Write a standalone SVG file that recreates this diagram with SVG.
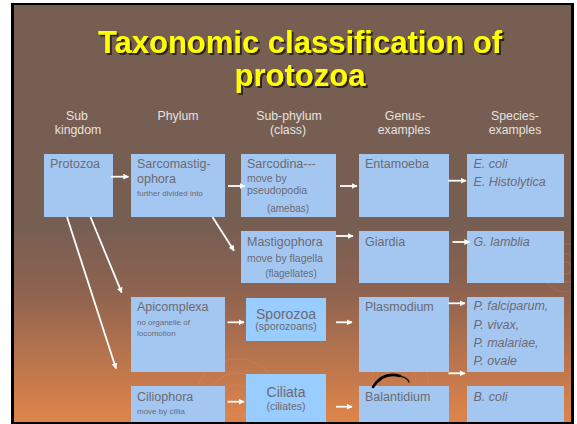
<svg xmlns="http://www.w3.org/2000/svg" width="577" height="424" viewBox="0 0 577 424">
  <defs>
    <linearGradient id="slideBg" gradientUnits="userSpaceOnUse" x1="0" y1="225" x2="0" y2="415">
      <stop offset="0" stop-color="#765E53"/>
      <stop offset="0.35" stop-color="#8E6350"/>
      <stop offset="1" stop-color="#DB834B"/>
    </linearGradient>
    <filter id="titleShadow" x="-5%" y="-20%" width="110%" height="140%">
      <feDropShadow dx="2" dy="2" stdDeviation="0.4" flood-color="#2E2019" flood-opacity="1"/>
    </filter>
    <clipPath id="slideClip">
      <rect x="14" y="5" width="557" height="417"/>
    </clipPath>
    <marker id="head" viewBox="0 0 10 10" refX="9" refY="5" markerWidth="3.2" markerHeight="3.2" orient="auto" markerUnits="strokeWidth">
      <path d="M0,0 L10,5 L0,10 z" fill="#FFFFFF"/>
    </marker>
    <style>
      .title { font-family: "Liberation Sans", Arial, sans-serif; font-weight: bold; font-size: 31px; text-anchor: middle; fill: #FFFF00; }
      .hdr { font-family: "Liberation Sans", Arial, sans-serif; font-size: 12.3px; fill: #E6E2DF; text-anchor: middle; }
      .box { fill: #A4C7F1; }
      .box2 { fill: #99CCFF; }
      .t { font-family: "Liberation Sans", Arial, sans-serif; font-size: 12.5px; fill: #6C6A72; }
      .ti { font-family: "Liberation Sans", Arial, sans-serif; font-size: 12.5px; font-style: italic; fill: #6C6A72; }
      .tm { font-family: "Liberation Sans", Arial, sans-serif; font-size: 10.5px; fill: #6C6A72; }
      .ts { font-family: "Liberation Sans", Arial, sans-serif; font-size: 8px; fill: #6C6A72; }
      .tc { font-family: "Liberation Sans", Arial, sans-serif; fill: #6C6A72; text-anchor: middle; }
      .arrow { stroke: #FFFFFF; stroke-width: 1.8; fill: none; marker-end: url(#head); }
      .ring { fill: none; stroke: #E89A68; stroke-width: 1.1; opacity: 0.22; }
    </style>
  </defs>

  <!-- slide frame and background -->
  <rect x="0" y="0" width="577" height="424" fill="#FFFFFF"/>
  <rect x="11" y="3" width="563" height="421" fill="#000000"/>
  <rect x="14" y="5" width="557" height="417" fill="url(#slideBg)"/>

  <!-- faint ripple ornaments -->
  <g id="ripples" clip-path="url(#slideClip)">
    <circle class="ring" cx="237" cy="401" r="8"/>
    <circle class="ring" cx="237" cy="401" r="16"/>
    <circle class="ring" cx="237" cy="401" r="28"/>
    <circle class="ring" cx="237" cy="401" r="42"/>
    <circle class="ring" cx="400" cy="382" r="16"/>
    <circle class="ring" cx="400" cy="382" r="28"/>
    <circle class="ring" cx="566" cy="268" r="6"/>
    <circle class="ring" cx="566" cy="268" r="14"/>
    <circle class="ring" cx="566" cy="268" r="24"/>
  </g>

  <!-- title -->
  <g id="title" filter="url(#titleShadow)">
    <text class="title" x="300" y="53">Taxonomic classification of</text>
    <text class="title" x="300" y="86">protozoa</text>
  </g>

  <!-- column headings -->
  <g id="headings">
    <text class="hdr" x="77" y="120">Sub</text>
    <text class="hdr" x="78" y="134">kingdom</text>
    <text class="hdr" x="178" y="120">Phylum</text>
    <text class="hdr" x="289" y="120">Sub-phylum</text>
    <text class="hdr" x="288" y="134">(class)</text>
    <text class="hdr" x="405" y="120">Genus-</text>
    <text class="hdr" x="404" y="134">examples</text>
    <text class="hdr" x="515" y="120">Species-</text>
    <text class="hdr" x="515" y="134">examples</text>
  </g>

  <!-- row 1 -->
  <g id="protozoa">
    <rect class="box" x="44" y="154" width="69" height="63"/>
    <text class="t" x="50" y="168">Protozoa</text>
  </g>
  <g id="sarcomastigophora">
    <rect class="box" x="131" y="154" width="94" height="63"/>
    <text class="t" x="137" y="168">Sarcomastig-</text>
    <text class="t" x="137" y="183">ophora</text>
    <text class="ts" x="137" y="196">further divided into</text>
  </g>
  <g id="sarcodina">
    <rect class="box" x="241" y="154" width="95" height="63"/>
    <text class="t" x="247" y="168">Sarcodina---</text>
    <text class="tm" x="247" y="182">move by</text>
    <text class="tm" x="247" y="194">pseudopodia</text>
    <text class="tc" x="288" y="211.5" font-size="10px">(amebas)</text>
  </g>
  <g id="entamoeba">
    <rect class="box" x="359" y="154" width="90" height="63"/>
    <text class="t" x="365" y="168">Entamoeba</text>
  </g>
  <g id="e-coli">
    <rect class="box" x="467" y="154" width="97" height="63"/>
    <text class="ti" x="473.5" y="168">E. coli</text>
    <text class="ti" x="473.5" y="186">E. Histolytica</text>
  </g>

  <!-- row 2 -->
  <g id="mastigophora">
    <rect class="box" x="241" y="231" width="95" height="52"/>
    <text class="t" x="247" y="246">Mastigophora</text>
    <text class="tm" x="247" y="261.5">move by flagella</text>
    <text class="tc" x="291" y="276.5" font-size="10px">(flagellates)</text>
  </g>
  <g id="giardia">
    <rect class="box" x="359" y="231" width="90" height="52"/>
    <text class="t" x="365" y="246">Giardia</text>
  </g>
  <g id="g-lamblia">
    <rect class="box" x="467" y="231" width="97" height="52"/>
    <text class="ti" x="473.5" y="246">G. lamblia</text>
  </g>

  <!-- row 3 -->
  <g id="apicomplexa">
    <rect class="box" x="131" y="297" width="94" height="75"/>
    <text class="t" x="137" y="310.5">Apicomplexa</text>
    <text class="ts" x="137" y="324.5">no organelle of</text>
    <text class="ts" x="137" y="335.5">locomotion</text>
  </g>
  <g id="sporozoa">
    <rect class="box2" x="246" y="298" width="80" height="43"/>
    <text class="tc" x="286" y="318.5" font-size="14px">Sporozoa</text>
    <text class="tc" x="286" y="330" font-size="10.5px">(sporozoans)</text>
  </g>
  <g id="plasmodium">
    <rect class="box" x="359" y="297" width="90" height="75"/>
    <text class="t" x="365" y="311">Plasmodium</text>
  </g>
  <g id="p-species">
    <rect class="box" x="467" y="297" width="97" height="75"/>
    <text class="ti" x="473.5" y="310">P. falciparum,</text>
    <text class="ti" x="473.5" y="328.5">P. vivax,</text>
    <text class="ti" x="473.5" y="347">P. malariae,</text>
    <text class="ti" x="473.5" y="365">P. ovale</text>
  </g>

  <!-- row 4 -->
  <g id="ciliophora">
    <rect class="box" x="131" y="386" width="94" height="36"/>
    <text class="t" x="137" y="400.5">Ciliophora</text>
    <text class="ts" x="137" y="413.5">move by cillia</text>
  </g>
  <g id="ciliata">
    <rect class="box2" x="246" y="374" width="80" height="48"/>
    <text class="tc" x="286" y="396.5" font-size="14px">Ciliata</text>
    <text class="tc" x="286" y="410" font-size="10.5px">(ciliates)</text>
  </g>
  <g id="balantidium">
    <rect class="box" x="359" y="386" width="90" height="36"/>
    <text class="t" x="365" y="400.5">Balantidium</text>
  </g>
  <g id="b-coli">
    <rect class="box" x="467" y="386" width="97" height="36"/>
    <text class="ti" x="473.5" y="400.5">B. coli</text>
  </g>

  <!-- black curved stroke above Balantidium -->
  <path d="M373,387 Q383,371 400,376" fill="none" stroke="#000000" stroke-width="2.6" stroke-linecap="round"/>
  <path d="M400,376 Q408,378 409,382" fill="none" stroke="#1A1410" stroke-width="1.4" stroke-linecap="round"/>

  <!-- connectors -->
  <g id="connectors">
    <line class="arrow" x1="111" y1="176.7" x2="128.5" y2="176.7"/>
    <line class="arrow" x1="228" y1="186" x2="245" y2="186"/>
    <line class="arrow" x1="340" y1="186" x2="357" y2="186"/>
    <line class="arrow" x1="448" y1="180.7" x2="466" y2="180.7"/>
    <line class="arrow" x1="336" y1="236" x2="353" y2="236"/>
    <line class="arrow" x1="452.5" y1="242" x2="469.5" y2="242"/>
    <line class="arrow" x1="227.5" y1="322.3" x2="244" y2="322.3"/>
    <line class="arrow" x1="336" y1="322.3" x2="352" y2="322.3"/>
    <line class="arrow" x1="448.5" y1="303.3" x2="465" y2="303.3"/>
    <line class="arrow" x1="448.5" y1="373.3" x2="465" y2="373.3"/>
    <line class="arrow" x1="227.5" y1="401.7" x2="244" y2="401.7"/>
    <line class="arrow" x1="336" y1="406.7" x2="352" y2="406.7"/>
    <line class="arrow" x1="67" y1="217" x2="116" y2="368.5"/>
    <line class="arrow" x1="90.5" y1="217" x2="121.7" y2="292.7"/>
    <line class="arrow" x1="212.5" y1="217" x2="234" y2="250.7"/>
  </g>
</svg>
